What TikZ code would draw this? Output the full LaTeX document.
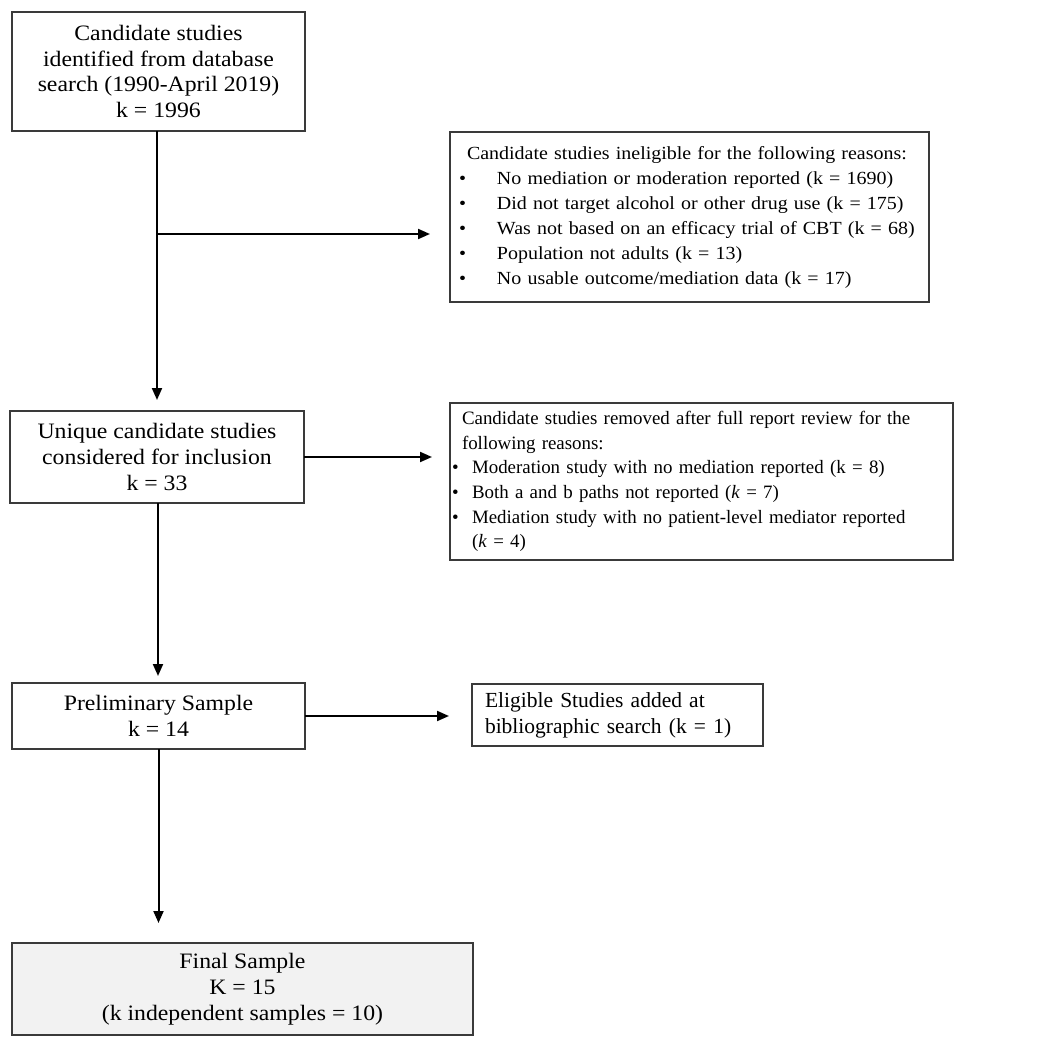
\documentclass[tikz,border=0pt]{standalone}
\usepackage{fontspec}
\setmainfont{Liberation Serif}[FakeStretch=1.08]
\newfontfamily\plainserif{Liberation Serif}
\usetikzlibrary{arrows.meta}
\definecolor{boxline}{HTML}{3A3A3A}
\definecolor{finalfill}{HTML}{F2F2F2}
\tikzset{
  box/.style={draw=boxline, line width=1.5pt, inner sep=0pt, outer sep=0pt},
  arr/.style={line width=2pt, -{Triangle[length=12pt,width=10pt]}},
  mainfont/.style={font=\fontsize{22}{25.7}\selectfont},
}
\newcommand{\bl}[1]{\mbox{\makebox[38pt][l]{\textbullet}#1}}
\newcommand{\bs}[1]{\mbox{\makebox[20pt][l]{\textbullet}#1}}
\begin{document}
\begin{tikzpicture}[x=1pt,y=-1pt]
\useasboundingbox (0,0) rectangle (1050,1046);

\node[box, mainfont, minimum width=293pt, minimum height=119pt, align=center] (b1) at (158.5,71.5)
  {Candidate studies\\identified from database\\search (1990-April 2019)\\k = 1996};

\node[box, minimum width=479pt, minimum height=170pt, align=left, inner xsep=9pt,
  text width=461pt, font=\fontsize{18.5}{25}\selectfont] (r1) at (689.5,217)
  {\mbox{\hspace*{8pt}Candidate studies ineligible for the following reasons:}\\
   \bl{No mediation or moderation reported (k = 1690)}\\
   \bl{Did not target alcohol or other drug use (k = 175)}\\
   \bl{Was not based on an efficacy trial of CBT (k = 68)}\\
   \bl{Population not adults (k = 13)}\\
   \bl{No usable outcome/mediation data (k = 17)}};

\node[box, mainfont, minimum width=294pt, minimum height=92pt, align=center] (b2) at (157,457)
  {Unique candidate studies\\considered for inclusion\\k = 33};

\node[box, minimum width=503pt, minimum height=157pt, align=left, inner xsep=2pt,
  text width=499pt, font=\plainserif\fontsize{18.9}{24.6}\selectfont] (r2) at (701.5,481.5)
  {\mbox{\hspace*{10pt}\makebox[465pt][s]{Candidate studies removed after full report review for the}}\\
   \mbox{\hspace*{10pt}following reasons:}\\
   \bs{Moderation study with no mediation reported (k = 8)}\\
   \bs{Both a and b paths not reported (\textit{k} = 7)}\\
   \bs{Mediation study with no patient-level mediator reported}\\
   \hspace*{20pt}(\textit{k} = 4)};

\node[box, mainfont, minimum width=293pt, minimum height=66pt, align=center] (b3) at (158.5,716)
  {Preliminary Sample\\k = 14};

\node[box, minimum width=291pt, minimum height=62pt, align=left, inner xsep=13pt,
  text width=265pt, font=\plainserif\fontsize{21.5}{26}\selectfont] (r3) at (617.5,715)
  {Eligible Studies added at\\bibliographic search (k = 1)};

\node[box, mainfont, fill=finalfill, minimum width=461pt, minimum height=92pt, align=center,
  font=\fontsize{22}{26}\selectfont] (b4) at (242.5,989)
  {Final Sample\\K = 15\\(k independent samples = 10)};

\coordinate (j1) at (157,234);
\coordinate (t1) at (b1.south -| j1);
\coordinate (t2) at (158,503);
\draw[arr, shorten >=11pt] (t1) -- (t1 |- b2.north);
\draw[arr, shorten >=20pt] (j1) -- (j1 -| r1.west);
\draw[arr, shorten >=18pt] (b2.east) -- (b2.east -| r2.west);
\draw[arr, shorten >=7pt] (t2) -- (t2 |- b3.north);
\draw[arr, shorten >=23pt] (b3.east) -- (b3.east -| r3.west);
\draw[arr, shorten >=20pt] (b3.south) -- (b3.south |- b4.north);
\end{tikzpicture}
\end{document}
